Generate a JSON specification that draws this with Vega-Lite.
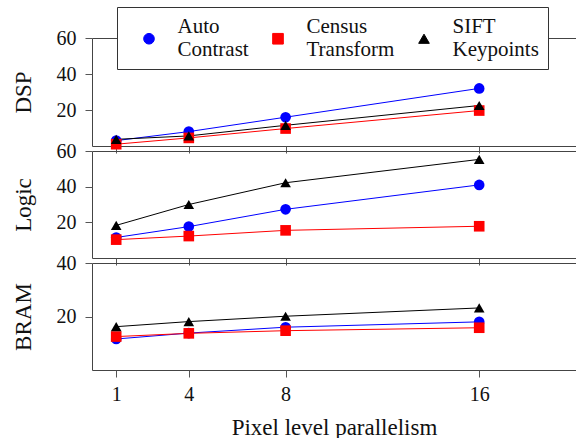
{
  "$schema": "https://vega.github.io/schema/vega-lite/v6.json",
  "padding": {"left": 11, "top": 6, "right": 0, "bottom": 0},
  "autosize": {"type": "pad"},
  "spacing": 5,
  "bounds": "flush",
  "datasets": {
    "d": [
      {"panel": "DSP", "x": 1, "series": "Auto Contrast", "value": 3},
      {"panel": "DSP", "x": 4, "series": "Auto Contrast", "value": 8},
      {"panel": "DSP", "x": 8, "series": "Auto Contrast", "value": 16},
      {"panel": "DSP", "x": 16, "series": "Auto Contrast", "value": 32},
      {"panel": "DSP", "x": 1, "series": "Census Transform", "value": 1},
      {"panel": "DSP", "x": 4, "series": "Census Transform", "value": 4.5},
      {"panel": "DSP", "x": 8, "series": "Census Transform", "value": 9.7},
      {"panel": "DSP", "x": 16, "series": "Census Transform", "value": 19.7},
      {"panel": "DSP", "x": 1, "series": "SIFT Keypoints", "value": 3.7},
      {"panel": "DSP", "x": 4, "series": "SIFT Keypoints", "value": 5.6},
      {"panel": "DSP", "x": 8, "series": "SIFT Keypoints", "value": 11.5},
      {"panel": "DSP", "x": 16, "series": "SIFT Keypoints", "value": 22.5},
      {"panel": "Logic", "x": 1, "series": "Auto Contrast", "value": 11.5},
      {"panel": "Logic", "x": 4, "series": "Auto Contrast", "value": 17.6},
      {"panel": "Logic", "x": 8, "series": "Auto Contrast", "value": 27.3},
      {"panel": "Logic", "x": 16, "series": "Auto Contrast", "value": 41},
      {"panel": "Logic", "x": 1, "series": "Census Transform", "value": 10.3},
      {"panel": "Logic", "x": 4, "series": "Census Transform", "value": 12.3},
      {"panel": "Logic", "x": 8, "series": "Census Transform", "value": 15.5},
      {"panel": "Logic", "x": 16, "series": "Census Transform", "value": 17.8},
      {"panel": "Logic", "x": 1, "series": "SIFT Keypoints", "value": 18.3},
      {"panel": "Logic", "x": 4, "series": "SIFT Keypoints", "value": 30},
      {"panel": "Logic", "x": 8, "series": "SIFT Keypoints", "value": 42.2},
      {"panel": "Logic", "x": 16, "series": "SIFT Keypoints", "value": 55.3},
      {"panel": "BRAM", "x": 1, "series": "Auto Contrast", "value": 11.6},
      {"panel": "BRAM", "x": 4, "series": "Auto Contrast", "value": 13.8},
      {"panel": "BRAM", "x": 8, "series": "Auto Contrast", "value": 16},
      {"panel": "BRAM", "x": 16, "series": "Auto Contrast", "value": 18},
      {"panel": "BRAM", "x": 1, "series": "Census Transform", "value": 12.5},
      {"panel": "BRAM", "x": 4, "series": "Census Transform", "value": 13.7},
      {"panel": "BRAM", "x": 8, "series": "Census Transform", "value": 14.7},
      {"panel": "BRAM", "x": 16, "series": "Census Transform", "value": 15.8},
      {"panel": "BRAM", "x": 1, "series": "SIFT Keypoints", "value": 16.2},
      {"panel": "BRAM", "x": 4, "series": "SIFT Keypoints", "value": 18.1},
      {"panel": "BRAM", "x": 8, "series": "SIFT Keypoints", "value": 20.1},
      {"panel": "BRAM", "x": 16, "series": "SIFT Keypoints", "value": 23.2}
    ]
  },
  "resolve": {"scale": {"color": "shared", "shape": "shared"}, "legend": {"color": "shared"}},
  "vconcat": [
    {
      "width": 484, "height": 108,
      "data": {"name": "d"},
      "transform": [{"filter": "datum.panel == 'DSP'"}],
      "encoding": {
        "x": {"field": "x", "type": "quantitative", "scale": {"domain": [0, 20]}, "axis": {"values": [1, 4, 8, 16], "labels": false, "title": null}},
        "y": {"field": "value", "type": "quantitative", "scale": {"domain": [0, 60]}, "axis": {"values": [20, 40, 60], "title": "DSP", "labelFont": "Liberation Serif", "titleFont": "Liberation Serif"}},
        "color": {
          "field": "series", "type": "nominal",
          "scale": {"domain": ["Auto Contrast", "Census Transform", "SIFT Keypoints"], "range": ["#0000ff", "#ff0000", "#000000"]},
          "legend": {
            "orient": "none", "legendX": 25, "legendY": -31, "direction": "horizontal", "title": null,
            "labelExpr": "split(datum.label, ' ')",
            "labelFont": "Liberation Serif", "labelFontSize": 21, "labelColor": "#111",
            "labelOffset": 18, "symbolOffset": 12.5, "columnPadding": 6, "padding": 9,
            "strokeColor": "#333", "fillColor": "white",
            "symbolSize": 113, "symbolStrokeWidth": 1,
            "encode": {
              "symbols": {
                "update": {
                  "y": {"value": 22.5}
                }
              }
            }
          }
        }
      },
      "layer": [
        {"mark": {"type": "line", "strokeWidth": 1}},
        {
          "mark": {"type": "point", "filled": true, "size": 113, "opacity": 1},
          "encoding": {
            "shape": {"field": "series", "type": "nominal", "scale": {"domain": ["Auto Contrast", "Census Transform", "SIFT Keypoints"], "range": ["circle", "square", "triangle-up"]}, "legend": null}
          }
        }
      ]
    },
    {
      "width": 484, "height": 107,
      "data": {"name": "d"},
      "transform": [{"filter": "datum.panel == 'Logic'"}],
      "encoding": {
        "x": {"field": "x", "type": "quantitative", "scale": {"domain": [0, 20]}, "axis": {"values": [1, 4, 8, 16], "labels": false, "title": null}},
        "y": {"field": "value", "type": "quantitative", "scale": {"domain": [0, 60]}, "axis": {"values": [20, 40, 60], "title": "Logic", "labelFont": "Liberation Serif", "titleFont": "Liberation Serif"}},
        "color": {"field": "series", "type": "nominal", "scale": {"domain": ["Auto Contrast", "Census Transform", "SIFT Keypoints"], "range": ["#0000ff", "#ff0000", "#000000"]}}
      },
      "layer": [
        {"mark": {"type": "line", "strokeWidth": 1}},
        {
          "mark": {"type": "point", "filled": true, "size": 113, "opacity": 1},
          "encoding": {
            "shape": {"field": "series", "type": "nominal", "scale": {"domain": ["Auto Contrast", "Census Transform", "SIFT Keypoints"], "range": ["circle", "square", "triangle-up"]}, "legend": null}
          }
        }
      ]
    },
    {
      "width": 484, "height": 107,
      "data": {"name": "d"},
      "transform": [{"filter": "datum.panel == 'BRAM'"}],
      "encoding": {
        "x": {"field": "x", "type": "quantitative", "scale": {"domain": [0, 20]}, "axis": {"values": [1, 4, 8, 16], "title": "Pixel level parallelism", "labelFont": "Liberation Serif", "titleFont": "Liberation Serif"}},
        "y": {"field": "value", "type": "quantitative", "scale": {"domain": [0, 40]}, "axis": {"values": [20, 40], "title": "BRAM", "labelFont": "Liberation Serif", "titleFont": "Liberation Serif"}},
        "color": {"field": "series", "type": "nominal", "scale": {"domain": ["Auto Contrast", "Census Transform", "SIFT Keypoints"], "range": ["#0000ff", "#ff0000", "#000000"]}}
      },
      "layer": [
        {"mark": {"type": "line", "strokeWidth": 1}},
        {
          "mark": {"type": "point", "filled": true, "size": 113, "opacity": 1},
          "encoding": {
            "shape": {"field": "series", "type": "nominal", "scale": {"domain": ["Auto Contrast", "Census Transform", "SIFT Keypoints"], "range": ["circle", "square", "triangle-up"]}, "legend": null}
          }
        }
      ]
    }
  ],
  "config": {
    "font": "Liberation Serif",
    "view": {"stroke": "#444", "strokeWidth": 1},
    "axis": {
      "grid": false, "domain": false, "tickColor": "#555", "tickSize": 7,
      "labelFont": "Liberation Serif", "labelFontSize": 20, "labelColor": "#111",
      "titleFont": "Liberation Serif", "titleFontSize": 23, "titleFontWeight": "normal", "titleColor": "#111",
      "labelFlush": false
    },
    "axisY": {"labelPadding": 9, "titlePadding": 21},
    "axisX": {"labelPadding": 7, "titlePadding": 12},
    "legend": {
      "orient": "none", "legendX": 25, "legendY": -31, "direction": "horizontal", "title": null,
      "labelFont": "Liberation Serif", "labelFontSize": 21, "labelColor": "#111",
      "labelOffset": 18, "symbolOffset": 12.5, "columnPadding": 6, "padding": 9,
      "strokeColor": "#333", "fillColor": "white",
      "symbolSize": 113, "symbolStrokeWidth": 1
    }
  }
}
